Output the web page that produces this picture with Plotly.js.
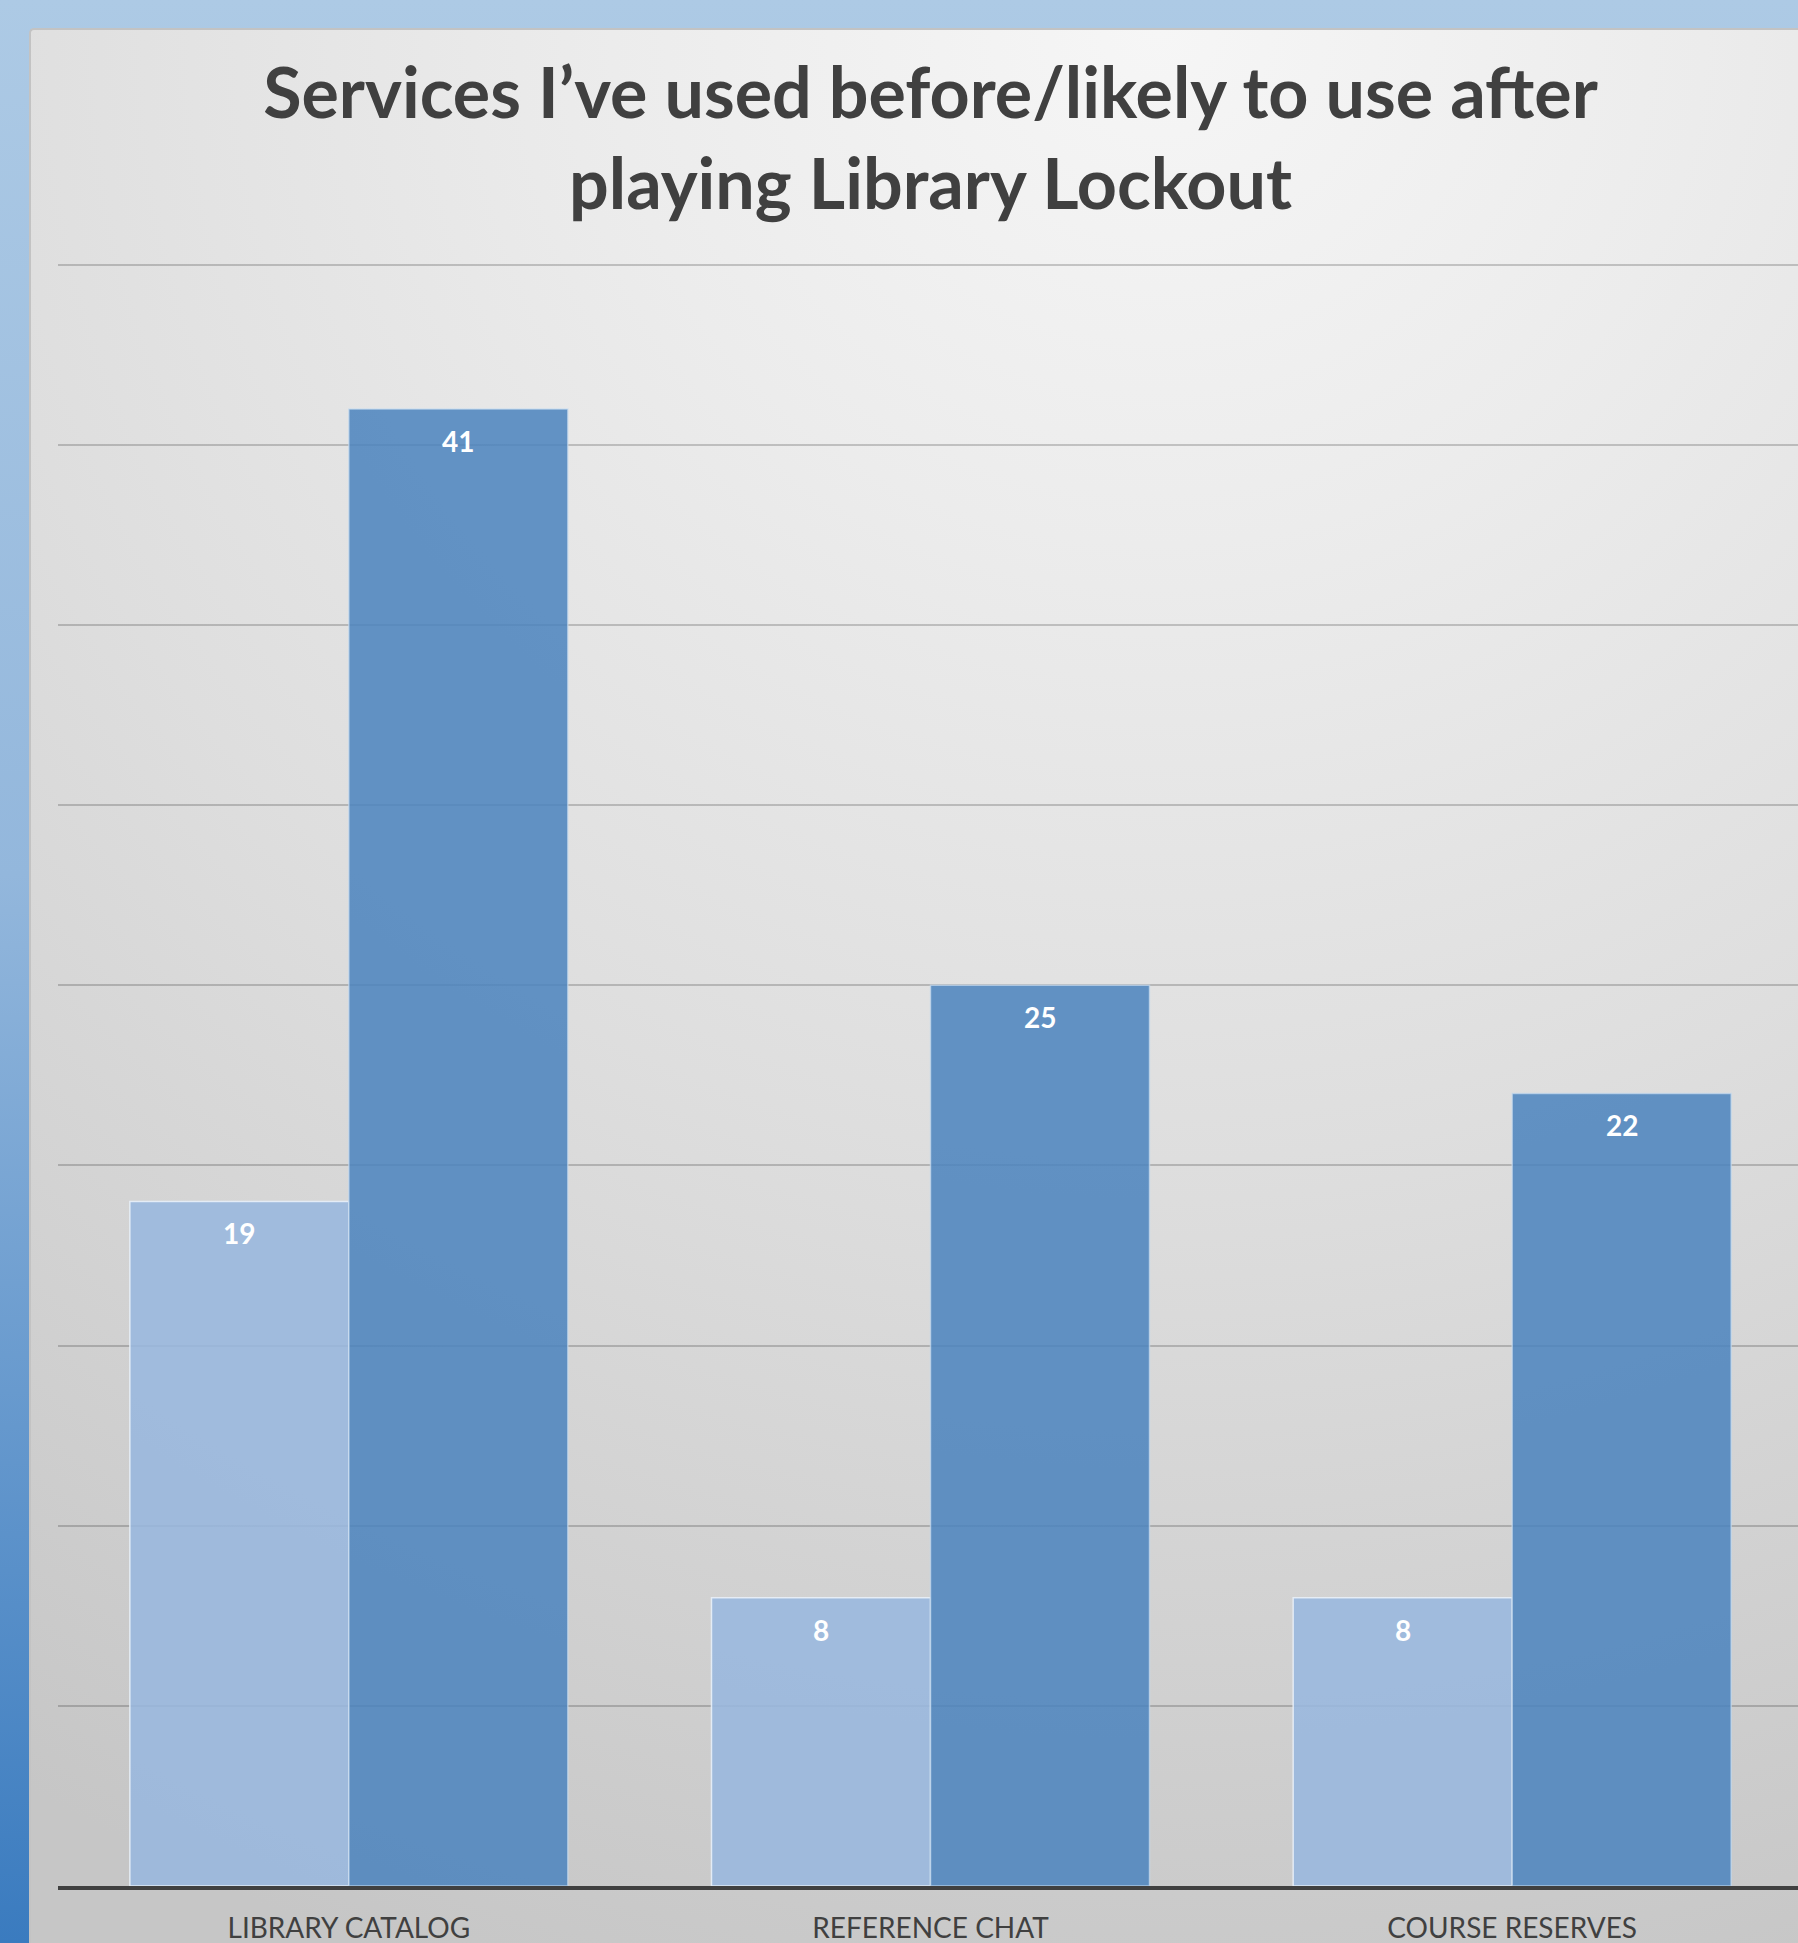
<!DOCTYPE html>
<html>
<head>
<meta charset="utf-8">
<script src="https://cdn.plot.ly/plotly-3.0.1.min.js"></script>
<style>
  html, body { margin:0; padding:0; }
  body {
    width:1798px; height:1943px; overflow:hidden; position:relative;
    background: linear-gradient(to bottom, #adcae5 0%, #93b7dc 45%, #3a7bbf 100%);
  }
  #panel {
    position:absolute; left:29px; top:28px; width:1820px; height:1960px;
    border-top:2px solid #c3c3c3; border-left:2px solid #c3c3c3;
    border-radius:5px 0 0 0; box-sizing:border-box;
    background: radial-gradient(ellipse 120% 105% at 62% 0%, #f6f6f6 0%, #ececec 25%, #dedede 55%, #c6c6c6 100%);
  }
  #chart { position:absolute; left:0; top:0; width:1830px; height:1943px; }
</style>
</head>
<body>
<div id="panel"></div>
<div id="chart"></div>
<script>
// ---- data ----
const categories = ["LIBRARY CATALOG", "REFERENCE CHAT", "COURSE RESERVES"];
const usedBefore = [19, 8, 8];
const likelyAfter = [41, 25, 22];
const seriesNames = ["Used before", "Likely to use after"];
const chartTitle = "Services I\u2019ve used before/likely to use after<br>playing Library Lockout";

// ---- styling ----
const font = "Lato, 'Open Sans', sans-serif";
const bargap = 0.247;
const barW = (1 - bargap) / 2;

const traces = [
  {
    type: "bar", name: seriesNames[0], x: categories, y: usedBefore,
    marker: { color: "rgba(152,183,222,0.88)", line: { color: "rgba(235,242,250,0.85)", width: 1.5 } },
    hoverinfo: "skip"
  },
  {
    type: "bar", name: seriesNames[1], x: categories, y: likelyAfter,
    marker: { color: "rgba(76,132,190,0.86)", line: { color: "rgba(200,220,240,0.7)", width: 1.5 } },
    hoverinfo: "skip"
  }
];

const annotations = [];
[usedBefore, likelyAfter].forEach((vals, s) => {
  vals.forEach((v, i) => {
    annotations.push({
      x: i + (s === 0 ? -barW / 2 : barW / 2), xref: "x",
      y: v, yref: "y", yanchor: "middle", yshift: -32,
      text: String(v), showarrow: false,
      font: { family: font, size: 28, color: "#ffffff", weight: "bold" }
    });
  });
});

const layout = {
  width: 1830, height: 1943,
  margin: { l: 58, r: 27, t: 263, b: 57 },
  paper_bgcolor: "rgba(0,0,0,0)",
  plot_bgcolor: "rgba(0,0,0,0)",
  showlegend: false,
  barmode: "group", bargap: bargap, bargroupgap: 0,
  title: {
    text: chartTitle,
    xref: "paper", x: 0.5, xanchor: "center",
    yref: "container", y: 1 - 118/1943, yanchor: "top",
    font: { family: font, size: 70, color: "#404040", weight: "bold" }
  },
  xaxis: {
    type: "category", range: [-0.5, 2.5],
    showline: true, linecolor: "#404040", linewidth: 4,
    ticks: "", showgrid: false, zeroline: false,
    tickfont: { family: font, size: 28, color: "#404040" },
    ticklabelstandoff: 14
  },
  yaxis: {
    range: [0, 45.05], dtick: 5, tick0: 0,
    showgrid: true, gridcolor: "rgba(0,0,0,0.19)", gridwidth: 2,
    zeroline: false, showline: false, showticklabels: false, ticks: ""
  },
  annotations: annotations
};

Plotly.newPlot("chart", traces, layout, { staticPlot: true, displayModeBar: false });
</script>
</body>
</html>
